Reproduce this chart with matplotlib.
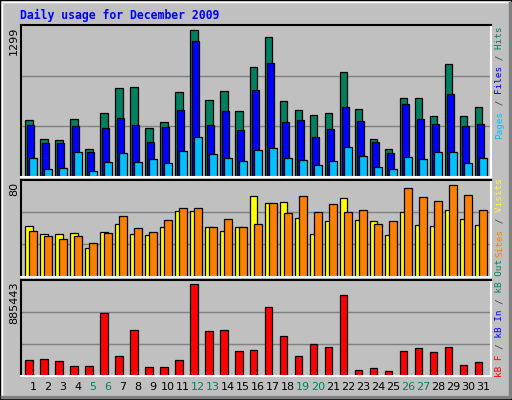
import matplotlib
matplotlib.use("Agg")
import matplotlib.pyplot as plt
from matplotlib.patches import Rectangle
import numpy as np

days = list(range(1, 32))
weekends = [5, 6, 12, 13, 19, 20, 26, 27]
hits = [504,336,327,513,247,566,786,795,433,486,751,1299,680,760,583,972,1237,672,592,548,566,928,601,336,247,698,698,539,999,539,619]
files = [459,300,300,451,221,433,521,459,309,442,592,1202,459,583,415,769,1007,486,504,353,424,619,495,309,212,645,513,468,733,451,468]
pages = [168,71,80,221,53,133,212,133,159,124,230,353,203,168,141,239,256,168,150,106,141,265,186,88,71,177,159,221,221,124,168]
visits = [44,37,37,38,25,39,46,37,36,43,57,57,43,40,43,70,64,65,51,37,48,68,49,48,36,56,45,44,58,50,45]
sites = [40,35,33,35,29,38,53,42,39,49,60,60,43,50,43,46,64,55,70,56,63,56,58,46,48,77,69,66,80,71,58]
kbytes = [155168,164866,145470,96980,96980,610974,193960,446108,87282,87282,155168,885443,436410,446108,242450,252148,669162,387920,193960,310336,281242,785538,58188,77584,48490,242450,271544,232752,281242,106678,135772]

W, H = 512, 400
BG = '#C0C0C0'
fig = plt.figure(figsize=(W/100, H/100), dpi=100, facecolor=BG)

def fx(x): return x / W
def fy(y): return 1 - y / H

fig.patches.append(Rectangle((0, 0), 1, 1, transform=fig.transFigure, fill=False, edgecolor='black', lw=1.5))
fig.patches.append(Rectangle((fx(1.5), fy(396)), fx(508.5), fy(2)-fy(396), transform=fig.transFigure, fill=False, edgecolor='white', lw=1))
fig.lines.append(matplotlib.lines.Line2D([fx(2), fx(510), fx(510)], [fy(397), fy(397), fy(3)], transform=fig.transFigure, color='#808080', lw=2.5))

X0, X1 = 20.7, 490.7
x = np.array(days, dtype=float)

def make_ax(ytop, ybot, ymax):
    ax = fig.add_axes([fx(X0), fy(ybot), fx(X1) - fx(X0), fy(ytop) - fy(ybot)])
    ax.set_facecolor(BG)
    ax.set_xlim(0.493, 31.827)
    ax.set_ylim(0, ymax)
    ax.set_xticks([]); ax.set_yticks([])
    for s in ['top', 'left']:
        ax.spines[s].set_color('black'); ax.spines[s].set_linewidth(1.5)
    for s in ['bottom', 'right']:
        ax.spines[s].set_color('white'); ax.spines[s].set_linewidth(1.5)
    for f in (1/3, 2/3):
        ax.axhline(ymax * f, color='#808080', lw=1, zorder=0)
    return ax

bw = 0.5
kw = dict(width=bw, align='edge', edgecolor='black', linewidth=0.9, zorder=2)

ax1 = make_ax(25, 176.7, 1340)
ax1.bar(x - 0.22, hits, color='#00805F', **kw)
ax1.bar(x - 0.087, files, color='#0000FF', **kw)
ax1.bar(x + 0.047, pages, color='#00C0FF', **kw)

ax2 = make_ax(180, 276.7, 84)
ax2.bar(x - 0.22, visits, color='#FFFF00', **kw)
ax2.bar(x + 0.047, sites, color='#FF8000', **kw)

ax3 = make_ax(280, 375.7, 928000)
ax3.bar(x - 0.22, kbytes, color='#FF0000', **kw)

for d in days:
    ax3.text(d + 0.31, -0.12, str(d), transform=ax3.get_xaxis_transform(), ha='center', va='center',
             fontsize=8, family='DejaVu Sans', color='#00805F' if d in weekends else 'black')

for ytop, lab in [(27, str(max(hits))), (182, str(max(max(visits), max(sites)))), (282, str(max(kbytes)))]:
    fig.text(fx(14), fy(ytop), lab, rotation=90, rotation_mode='anchor', ha='right', va='center',
             fontsize=8, family='DejaVu Sans', color='black')

fig.text(fx(20), fy(15), 'Daily usage for December 2009', ha='left', va='center', fontsize=8.3,
         family='DejaVu Sans Mono', fontweight='bold', color='#0000FF')

def legend(ystart, segs):
    pos = 0
    for s, c in segs:
        txt = ' ' * pos + s
        fig.text(fx(500), fy(ystart), txt, rotation=90, rotation_mode='anchor', ha='left', va='center',
                 fontsize=6.7, family='DejaVu Sans Mono', color=c)
        pos += len(s)

GR = '#404040'
legend(139, [('Pages', '#00C0FF'), (' / ', GR), ('Files', '#0000FF'), (' / ', GR), ('Hits', '#00805F')])
legend(257, [('Sites', '#FF8000'), (' / ', GR), ('Visits', '#FFFF00')])
legend(377, [('kB F', '#FF0000'), (' / ', GR), ('kB In', '#0000FF'), (' / ', GR), ('kB Out', '#00805F')])

fig.savefig('out.png', dpi=100, facecolor=BG)
